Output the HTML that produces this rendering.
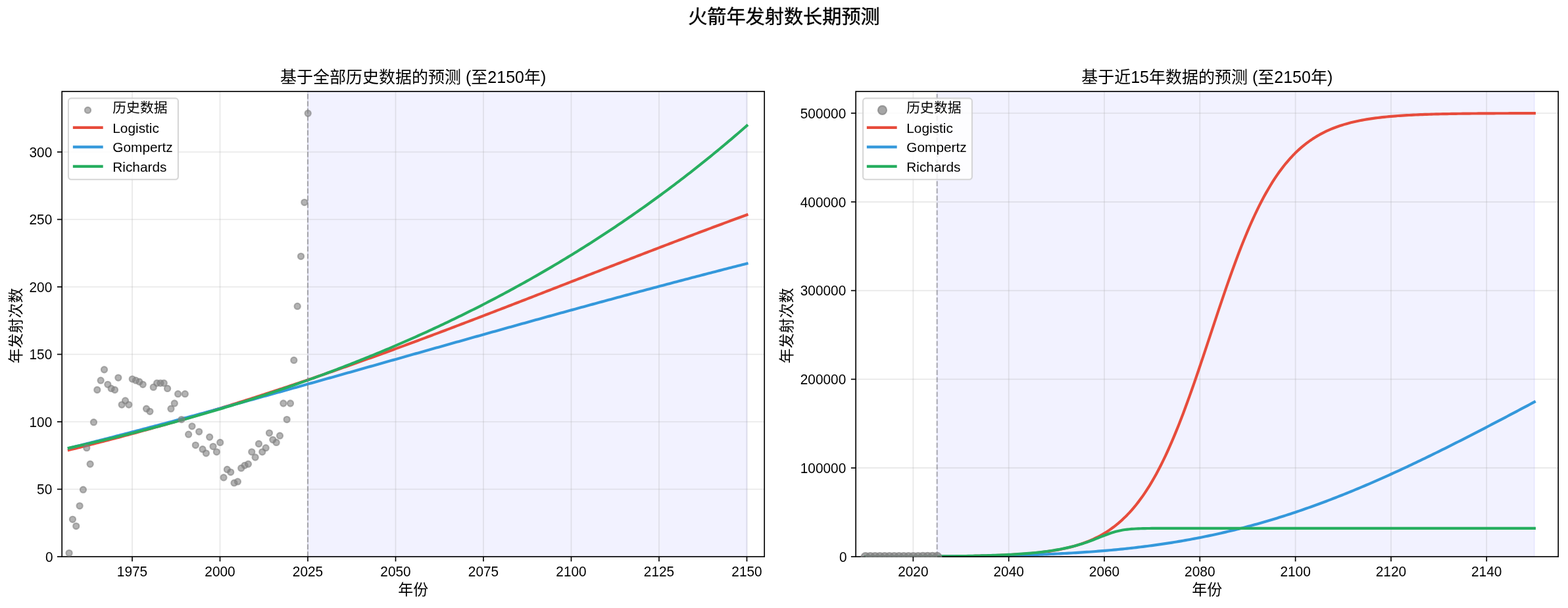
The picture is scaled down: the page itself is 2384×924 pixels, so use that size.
<!DOCTYPE html>
<html lang="zh"><head><meta charset="utf-8"><title>火箭年发射数长期预测</title>
<style>html,body{margin:0;padding:0;background:#fff}body{width:2384px;height:924px;overflow:hidden;font-family:"Liberation Sans","Noto Sans CJK SC",sans-serif}svg{display:block;will-change:transform}</style></head>
<body><svg width="2384" height="924" viewBox="0 0 2384 924" font-family="'Liberation Sans', 'Noto Sans CJK SC', sans-serif" fill="#000"><rect width="2384" height="924" fill="#fff"/><clipPath id="clip1"><rect x="94.2" y="139.0" width="1068.0" height="707.8"/></clipPath>
<g clip-path="url(#clip1)">
<rect x="468.00" y="139.0" width="667.50" height="707.0" fill="#0000ff" fill-opacity="0.05" stroke="#0000ff" stroke-opacity="0.05" stroke-width="2.08"/>
<g stroke="#b0b0b0" stroke-opacity="0.3" stroke-width="1.67"><line x1="201.00" y1="139.0" x2="201.00" y2="846.0"/><line x1="334.50" y1="139.0" x2="334.50" y2="846.0"/><line x1="468.00" y1="139.0" x2="468.00" y2="846.0"/><line x1="601.50" y1="139.0" x2="601.50" y2="846.0"/><line x1="735.00" y1="139.0" x2="735.00" y2="846.0"/><line x1="868.50" y1="139.0" x2="868.50" y2="846.0"/><line x1="1002.00" y1="139.0" x2="1002.00" y2="846.0"/><line x1="1135.50" y1="139.0" x2="1135.50" y2="846.0"/><line x1="94.2" y1="743.50" x2="1162.2" y2="743.50"/><line x1="94.2" y1="641.00" x2="1162.2" y2="641.00"/><line x1="94.2" y1="538.50" x2="1162.2" y2="538.50"/><line x1="94.2" y1="436.00" x2="1162.2" y2="436.00"/><line x1="94.2" y1="333.50" x2="1162.2" y2="333.50"/><line x1="94.2" y1="231.00" x2="1162.2" y2="231.00"/></g>
<polyline points="104.88,683.92 108.33,683.07 111.77,682.23 115.22,681.38 118.67,680.53 122.11,679.67 125.56,678.81 129.01,677.95 132.46,677.08 135.90,676.22 139.35,675.34 142.80,674.47 146.24,673.59 149.69,672.71 153.14,671.82 156.58,670.93 160.03,670.04 163.48,669.14 166.92,668.25 170.37,667.34 173.82,666.44 177.26,665.53 180.71,664.62 184.16,663.70 187.61,662.78 191.05,661.86 194.50,660.93 197.95,660.01 201.39,659.07 204.84,658.14 208.29,657.20 211.73,656.26 215.18,655.31 218.63,654.36 222.07,653.41 225.52,652.46 228.97,651.50 232.41,650.54 235.86,649.57 239.31,648.60 242.76,647.63 246.20,646.66 249.65,645.68 253.10,644.70 256.54,643.71 259.99,642.72 263.44,641.73 266.88,640.74 270.33,639.74 273.78,638.74 277.22,637.73 280.67,636.73 284.12,635.71 287.57,634.70 291.01,633.68 294.46,632.66 297.91,631.64 301.35,630.61 304.80,629.58 308.25,628.55 311.69,627.51 315.14,626.47 318.59,625.43 322.03,624.38 325.48,623.33 328.93,622.28 332.37,621.23 335.82,620.17 339.27,619.11 342.72,618.04 346.16,616.97 349.61,615.90 353.06,614.83 356.50,613.75 359.95,612.67 363.40,611.59 366.84,610.50 370.29,609.41 373.74,608.32 377.18,607.22 380.63,606.12 384.08,605.02 387.52,603.92 390.97,602.81 394.42,601.70 397.87,600.59 401.31,599.47 404.76,598.35 408.21,597.23 411.65,596.10 415.10,594.98 418.55,593.84 421.99,592.71 425.44,591.57 428.89,590.43 432.33,589.29 435.78,588.15 439.23,587.00 442.68,585.85 446.12,584.69 449.57,583.54 453.02,582.38 456.46,581.22 459.91,580.05 463.36,578.88 466.80,577.71 470.25,576.54 473.70,575.37 477.14,574.19 480.59,573.01 484.04,571.82 487.48,570.64 490.93,569.45 494.38,568.26 497.83,567.06 501.27,565.87 504.72,564.67 508.17,563.47 511.61,562.26 515.06,561.06 518.51,559.85 521.95,558.64 525.40,557.43 528.85,556.21 532.29,554.99 535.74,553.77 539.19,552.55 542.63,551.32 546.08,550.09 549.53,548.86 552.98,547.63 556.42,546.40 559.87,545.16 563.32,543.92 566.76,542.68 570.21,541.44 573.66,540.19 577.10,538.94 580.55,537.69 584.00,536.44 587.44,535.19 590.89,533.93 594.34,532.68 597.79,531.42 601.23,530.15 604.68,528.89 608.13,527.62 611.57,526.36 615.02,525.09 618.47,523.81 621.91,522.54 625.36,521.27 628.81,519.99 632.25,518.71 635.70,517.43 639.15,516.15 642.59,514.86 646.04,513.58 649.49,512.29 652.94,511.00 656.38,509.71 659.83,508.42 663.28,507.12 666.72,505.83 670.17,504.53 673.62,503.23 677.06,501.93 680.51,500.63 683.96,499.33 687.40,498.02 690.85,496.72 694.30,495.41 697.75,494.10 701.19,492.79 704.64,491.48 708.09,490.17 711.53,488.86 714.98,487.54 718.43,486.23 721.87,484.91 725.32,483.59 728.77,482.27 732.21,480.95 735.66,479.63 739.11,478.31 742.55,476.98 746.00,475.66 749.45,474.33 752.90,473.01 756.34,471.68 759.79,470.35 763.24,469.02 766.68,467.69 770.13,466.36 773.58,465.03 777.02,463.70 780.47,462.37 783.92,461.04 787.36,459.70 790.81,458.37 794.26,457.03 797.70,455.70 801.15,454.36 804.60,453.02 808.05,451.69 811.49,450.35 814.94,449.01 818.39,447.67 821.83,446.33 825.28,444.99 828.73,443.65 832.17,442.31 835.62,440.97 839.07,439.63 842.51,438.29 845.96,436.95 849.41,435.61 852.86,434.27 856.30,432.93 859.75,431.59 863.20,430.25 866.64,428.90 870.09,427.56 873.54,426.22 876.98,424.88 880.43,423.54 883.88,422.20 887.32,420.86 890.77,419.52 894.22,418.18 897.66,416.84 901.11,415.50 904.56,414.16 908.01,412.82 911.45,411.48 914.90,410.14 918.35,408.80 921.79,407.46 925.24,406.13 928.69,404.79 932.13,403.45 935.58,402.12 939.03,400.78 942.47,399.45 945.92,398.11 949.37,396.78 952.81,395.45 956.26,394.12 959.71,392.79 963.16,391.45 966.60,390.13 970.05,388.80 973.50,387.47 976.94,386.14 980.39,384.81 983.84,383.49 987.28,382.16 990.73,380.84 994.18,379.52 997.62,378.20 1001.07,376.88 1004.52,375.56 1007.97,374.24 1011.41,372.92 1014.86,371.61 1018.31,370.29 1021.75,368.98 1025.20,367.67 1028.65,366.35 1032.09,365.04 1035.54,363.74 1038.99,362.43 1042.43,361.12 1045.88,359.82 1049.33,358.52 1052.77,357.21 1056.22,355.91 1059.67,354.61 1063.12,353.32 1066.56,352.02 1070.01,350.73 1073.46,349.44 1076.90,348.14 1080.35,346.85 1083.80,345.57 1087.24,344.28 1090.69,343.00 1094.14,341.71 1097.58,340.43 1101.03,339.15 1104.48,337.88 1107.92,336.60 1111.37,335.33 1114.82,334.06 1118.27,332.79 1121.71,331.52 1125.16,330.25 1128.61,328.99 1132.05,327.73 1135.50,326.47" fill="none" stroke="#e74c3c" stroke-width="4.17" stroke-linecap="square" stroke-linejoin="round"/>
<polyline points="104.88,680.97 108.33,680.12 111.77,679.26 115.22,678.39 118.67,677.53 122.11,676.67 125.56,675.80 129.01,674.93 132.46,674.06 135.90,673.19 139.35,672.32 142.80,671.45 146.24,670.57 149.69,669.69 153.14,668.82 156.58,667.94 160.03,667.05 163.48,666.17 166.92,665.29 170.37,664.40 173.82,663.51 177.26,662.62 180.71,661.73 184.16,660.84 187.61,659.95 191.05,659.06 194.50,658.16 197.95,657.26 201.39,656.36 204.84,655.46 208.29,654.56 211.73,653.66 215.18,652.76 218.63,651.85 222.07,650.94 225.52,650.04 228.97,649.13 232.41,648.22 235.86,647.31 239.31,646.39 242.76,645.48 246.20,644.57 249.65,643.65 253.10,642.73 256.54,641.81 259.99,640.89 263.44,639.97 266.88,639.05 270.33,638.13 273.78,637.20 277.22,636.28 280.67,635.35 284.12,634.42 287.57,633.50 291.01,632.57 294.46,631.64 297.91,630.70 301.35,629.77 304.80,628.84 308.25,627.90 311.69,626.97 315.14,626.03 318.59,625.10 322.03,624.16 325.48,623.22 328.93,622.28 332.37,621.34 335.82,620.40 339.27,619.45 342.72,618.51 346.16,617.56 349.61,616.62 353.06,615.67 356.50,614.73 359.95,613.78 363.40,612.83 366.84,611.88 370.29,610.93 373.74,609.98 377.18,609.03 380.63,608.08 384.08,607.12 387.52,606.17 390.97,605.22 394.42,604.26 397.87,603.30 401.31,602.35 404.76,601.39 408.21,600.43 411.65,599.48 415.10,598.52 418.55,597.56 421.99,596.60 425.44,595.64 428.89,594.67 432.33,593.71 435.78,592.75 439.23,591.79 442.68,590.82 446.12,589.86 449.57,588.90 453.02,587.93 456.46,586.97 459.91,586.00 463.36,585.03 466.80,584.07 470.25,583.10 473.70,582.13 477.14,581.17 480.59,580.20 484.04,579.23 487.48,578.26 490.93,577.29 494.38,576.32 497.83,575.35 501.27,574.38 504.72,573.41 508.17,572.44 511.61,571.47 515.06,570.50 518.51,569.52 521.95,568.55 525.40,567.58 528.85,566.61 532.29,565.64 535.74,564.66 539.19,563.69 542.63,562.72 546.08,561.74 549.53,560.77 552.98,559.79 556.42,558.82 559.87,557.85 563.32,556.87 566.76,555.90 570.21,554.92 573.66,553.95 577.10,552.97 580.55,552.00 584.00,551.03 587.44,550.05 590.89,549.08 594.34,548.10 597.79,547.13 601.23,546.15 604.68,545.18 608.13,544.20 611.57,543.23 615.02,542.25 618.47,541.28 621.91,540.30 625.36,539.33 628.81,538.35 632.25,537.38 635.70,536.40 639.15,535.43 642.59,534.46 646.04,533.48 649.49,532.51 652.94,531.53 656.38,530.56 659.83,529.59 663.28,528.61 666.72,527.64 670.17,526.67 673.62,525.69 677.06,524.72 680.51,523.75 683.96,522.78 687.40,521.81 690.85,520.83 694.30,519.86 697.75,518.89 701.19,517.92 704.64,516.95 708.09,515.98 711.53,515.01 714.98,514.04 718.43,513.07 721.87,512.10 725.32,511.13 728.77,510.16 732.21,509.20 735.66,508.23 739.11,507.26 742.55,506.30 746.00,505.33 749.45,504.36 752.90,503.40 756.34,502.43 759.79,501.47 763.24,500.50 766.68,499.54 770.13,498.58 773.58,497.61 777.02,496.65 780.47,495.69 783.92,494.73 787.36,493.77 790.81,492.81 794.26,491.85 797.70,490.89 801.15,489.93 804.60,488.97 808.05,488.01 811.49,487.05 814.94,486.10 818.39,485.14 821.83,484.19 825.28,483.23 828.73,482.28 832.17,481.32 835.62,480.37 839.07,479.42 842.51,478.46 845.96,477.51 849.41,476.56 852.86,475.61 856.30,474.66 859.75,473.71 863.20,472.77 866.64,471.82 870.09,470.87 873.54,469.93 876.98,468.98 880.43,468.04 883.88,467.09 887.32,466.15 890.77,465.21 894.22,464.27 897.66,463.32 901.11,462.38 904.56,461.45 908.01,460.51 911.45,459.57 914.90,458.63 918.35,457.70 921.79,456.76 925.24,455.82 928.69,454.89 932.13,453.96 935.58,453.03 939.03,452.09 942.47,451.16 945.92,450.23 949.37,449.30 952.81,448.38 956.26,447.45 959.71,446.52 963.16,445.60 966.60,444.67 970.05,443.75 973.50,442.82 976.94,441.90 980.39,440.98 983.84,440.06 987.28,439.14 990.73,438.22 994.18,437.31 997.62,436.39 1001.07,435.47 1004.52,434.56 1007.97,433.65 1011.41,432.73 1014.86,431.82 1018.31,430.91 1021.75,430.00 1025.20,429.09 1028.65,428.18 1032.09,427.28 1035.54,426.37 1038.99,425.46 1042.43,424.56 1045.88,423.66 1049.33,422.76 1052.77,421.85 1056.22,420.95 1059.67,420.05 1063.12,419.16 1066.56,418.26 1070.01,417.36 1073.46,416.47 1076.90,415.58 1080.35,414.68 1083.80,413.79 1087.24,412.90 1090.69,412.01 1094.14,411.12 1097.58,410.23 1101.03,409.35 1104.48,408.46 1107.92,407.58 1111.37,406.70 1114.82,405.81 1118.27,404.93 1121.71,404.05 1125.16,403.17 1128.61,402.30 1132.05,401.42 1135.50,400.55" fill="none" stroke="#3498db" stroke-width="4.17" stroke-linecap="square" stroke-linejoin="round"/>
<polyline points="104.88,680.91 108.33,680.15 111.77,679.38 115.22,678.61 118.67,677.84 122.11,677.06 125.56,676.28 129.01,675.50 132.46,674.71 135.90,673.92 139.35,673.13 142.80,672.33 146.24,671.53 149.69,670.72 153.14,669.91 156.58,669.10 160.03,668.28 163.48,667.46 166.92,666.63 170.37,665.80 173.82,664.97 177.26,664.13 180.71,663.29 184.16,662.45 187.61,661.60 191.05,660.75 194.50,659.89 197.95,659.04 201.39,658.17 204.84,657.30 208.29,656.43 211.73,655.56 215.18,654.68 218.63,653.79 222.07,652.90 225.52,652.01 228.97,651.12 232.41,650.22 235.86,649.31 239.31,648.40 242.76,647.49 246.20,646.57 249.65,645.65 253.10,644.73 256.54,643.80 259.99,642.86 263.44,641.92 266.88,640.98 270.33,640.03 273.78,639.08 277.22,638.13 280.67,637.17 284.12,636.20 287.57,635.23 291.01,634.26 294.46,633.28 297.91,632.30 301.35,631.31 304.80,630.32 308.25,629.32 311.69,628.32 315.14,627.31 318.59,626.30 322.03,625.29 325.48,624.27 328.93,623.24 332.37,622.22 335.82,621.18 339.27,620.14 342.72,619.10 346.16,618.05 349.61,617.00 353.06,615.94 356.50,614.88 359.95,613.81 363.40,612.74 366.84,611.66 370.29,610.58 373.74,609.49 377.18,608.40 380.63,607.30 384.08,606.20 387.52,605.09 390.97,603.98 394.42,602.86 397.87,601.73 401.31,600.61 404.76,599.47 408.21,598.33 411.65,597.19 415.10,596.04 418.55,594.88 421.99,593.72 425.44,592.56 428.89,591.39 432.33,590.21 435.78,589.03 439.23,587.84 442.68,586.65 446.12,585.45 449.57,584.25 453.02,583.04 456.46,581.82 459.91,580.60 463.36,579.38 466.80,578.15 470.25,576.91 473.70,575.66 477.14,574.42 480.59,573.16 484.04,571.90 487.48,570.63 490.93,569.36 494.38,568.08 497.83,566.80 501.27,565.51 504.72,564.21 508.17,562.91 511.61,561.60 515.06,560.29 518.51,558.97 521.95,557.64 525.40,556.31 528.85,554.97 532.29,553.63 535.74,552.28 539.19,550.92 542.63,549.56 546.08,548.19 549.53,546.81 552.98,545.43 556.42,544.04 559.87,542.65 563.32,541.25 566.76,539.84 570.21,538.42 573.66,537.00 577.10,535.58 580.55,534.14 584.00,532.70 587.44,531.25 590.89,529.80 594.34,528.34 597.79,526.87 601.23,525.40 604.68,523.92 608.13,522.43 611.57,520.93 615.02,519.43 618.47,517.92 621.91,516.41 625.36,514.88 628.81,513.35 632.25,511.82 635.70,510.27 639.15,508.72 642.59,507.16 646.04,505.60 649.49,504.03 652.94,502.45 656.38,500.86 659.83,499.26 663.28,497.66 666.72,496.05 670.17,494.44 673.62,492.81 677.06,491.18 680.51,489.54 683.96,487.89 687.40,486.24 690.85,484.58 694.30,482.91 697.75,481.23 701.19,479.55 704.64,477.85 708.09,476.15 711.53,474.44 714.98,472.73 718.43,471.00 721.87,469.27 725.32,467.53 728.77,465.78 732.21,464.02 735.66,462.26 739.11,460.49 742.55,458.71 746.00,456.92 749.45,455.12 752.90,453.31 756.34,451.50 759.79,449.68 763.24,447.84 766.68,446.01 770.13,444.16 773.58,442.30 777.02,440.44 780.47,438.56 783.92,436.68 787.36,434.79 790.81,432.89 794.26,430.98 797.70,429.06 801.15,427.14 804.60,425.20 808.05,423.26 811.49,421.30 814.94,419.34 818.39,417.37 821.83,415.39 825.28,413.40 828.73,411.40 832.17,409.40 835.62,407.38 839.07,405.35 842.51,403.32 845.96,401.27 849.41,399.22 852.86,397.15 856.30,395.08 859.75,393.00 863.20,390.90 866.64,388.80 870.09,386.69 873.54,384.57 876.98,382.43 880.43,380.29 883.88,378.14 887.32,375.98 890.77,373.81 894.22,371.63 897.66,369.44 901.11,367.23 904.56,365.02 908.01,362.80 911.45,360.57 914.90,358.32 918.35,356.07 921.79,353.81 925.24,351.53 928.69,349.25 932.13,346.95 935.58,344.65 939.03,342.33 942.47,340.01 945.92,337.67 949.37,335.32 952.81,332.96 956.26,330.59 959.71,328.21 963.16,325.82 966.60,323.41 970.05,321.00 973.50,318.57 976.94,316.14 980.39,313.69 983.84,311.23 987.28,308.76 990.73,306.28 994.18,303.78 997.62,301.28 1001.07,298.76 1004.52,296.23 1007.97,293.69 1011.41,291.14 1014.86,288.58 1018.31,286.00 1021.75,283.42 1025.20,280.82 1028.65,278.21 1032.09,275.58 1035.54,272.95 1038.99,270.30 1042.43,267.64 1045.88,264.97 1049.33,262.29 1052.77,259.59 1056.22,256.88 1059.67,254.16 1063.12,251.42 1066.56,248.68 1070.01,245.92 1073.46,243.14 1076.90,240.36 1080.35,237.56 1083.80,234.75 1087.24,231.93 1090.69,229.09 1094.14,226.24 1097.58,223.38 1101.03,220.50 1104.48,217.61 1107.92,214.71 1111.37,211.79 1114.82,208.86 1118.27,205.92 1121.71,202.96 1125.16,199.99 1128.61,197.00 1132.05,194.01 1135.50,190.99" fill="none" stroke="#27ae60" stroke-width="4.17" stroke-linecap="square" stroke-linejoin="round"/>
<line x1="468.00" y1="846.0" x2="468.00" y2="139.0" stroke="#808080" stroke-opacity="0.6" stroke-width="2.08" stroke-dasharray="7.71 3.33"/>
</g>
<rect x="94.2" y="139.0" width="1068.0" height="707.0" fill="none" stroke="#000" stroke-width="1.67"/>
<g clip-path="url(#clip1)"><g fill="#808080" fill-opacity="0.6" stroke="#808080" stroke-opacity="0.6" stroke-width="2.08"><circle cx="105.08" cy="840.55" r="4.6"/><circle cx="110.42" cy="789.30" r="4.6"/><circle cx="115.76" cy="799.55" r="4.6"/><circle cx="121.10" cy="768.80" r="4.6"/><circle cx="126.44" cy="744.20" r="4.6"/><circle cx="131.78" cy="680.65" r="4.6"/><circle cx="137.12" cy="705.25" r="4.6"/><circle cx="142.46" cy="641.70" r="4.6"/><circle cx="147.80" cy="592.50" r="4.6"/><circle cx="153.14" cy="578.15" r="4.6"/><circle cx="158.48" cy="561.75" r="4.6"/><circle cx="163.82" cy="584.30" r="4.6"/><circle cx="169.16" cy="590.45" r="4.6"/><circle cx="174.50" cy="592.50" r="4.6"/><circle cx="179.84" cy="574.05" r="4.6"/><circle cx="185.18" cy="615.05" r="4.6"/><circle cx="190.52" cy="608.90" r="4.6"/><circle cx="195.86" cy="615.05" r="4.6"/><circle cx="201.20" cy="576.10" r="4.6"/><circle cx="206.54" cy="578.15" r="4.6"/><circle cx="211.88" cy="580.20" r="4.6"/><circle cx="217.22" cy="584.30" r="4.6"/><circle cx="222.56" cy="621.20" r="4.6"/><circle cx="227.90" cy="625.30" r="4.6"/><circle cx="233.24" cy="588.40" r="4.6"/><circle cx="238.58" cy="582.25" r="4.6"/><circle cx="243.92" cy="582.25" r="4.6"/><circle cx="249.26" cy="582.25" r="4.6"/><circle cx="254.60" cy="590.45" r="4.6"/><circle cx="259.94" cy="621.20" r="4.6"/><circle cx="265.28" cy="613.00" r="4.6"/><circle cx="270.62" cy="598.65" r="4.6"/><circle cx="275.96" cy="637.60" r="4.6"/><circle cx="281.30" cy="598.65" r="4.6"/><circle cx="286.64" cy="660.15" r="4.6"/><circle cx="291.98" cy="647.85" r="4.6"/><circle cx="297.32" cy="676.55" r="4.6"/><circle cx="302.66" cy="656.05" r="4.6"/><circle cx="308.00" cy="682.70" r="4.6"/><circle cx="313.34" cy="688.85" r="4.6"/><circle cx="318.68" cy="664.25" r="4.6"/><circle cx="324.02" cy="678.60" r="4.6"/><circle cx="329.36" cy="686.80" r="4.6"/><circle cx="334.70" cy="672.45" r="4.6"/><circle cx="340.04" cy="725.75" r="4.6"/><circle cx="345.38" cy="713.45" r="4.6"/><circle cx="350.72" cy="717.55" r="4.6"/><circle cx="356.06" cy="733.95" r="4.6"/><circle cx="361.40" cy="731.90" r="4.6"/><circle cx="366.74" cy="711.40" r="4.6"/><circle cx="372.08" cy="707.30" r="4.6"/><circle cx="377.42" cy="705.25" r="4.6"/><circle cx="382.76" cy="686.80" r="4.6"/><circle cx="388.10" cy="695.00" r="4.6"/><circle cx="393.44" cy="674.50" r="4.6"/><circle cx="398.78" cy="686.80" r="4.6"/><circle cx="404.12" cy="680.65" r="4.6"/><circle cx="409.46" cy="658.10" r="4.6"/><circle cx="414.80" cy="668.35" r="4.6"/><circle cx="420.14" cy="672.45" r="4.6"/><circle cx="425.48" cy="662.20" r="4.6"/><circle cx="430.82" cy="613.00" r="4.6"/><circle cx="436.16" cy="637.60" r="4.6"/><circle cx="441.50" cy="613.00" r="4.6"/><circle cx="446.84" cy="547.40" r="4.6"/><circle cx="452.18" cy="465.40" r="4.6"/><circle cx="457.52" cy="389.55" r="4.6"/><circle cx="462.86" cy="307.55" r="4.6"/><circle cx="468.20" cy="172.25" r="4.6"/></g></g>
<g stroke="#000" stroke-width="1.67"><line x1="201.00" y1="846.0" x2="201.00" y2="853.29"/><line x1="334.50" y1="846.0" x2="334.50" y2="853.29"/><line x1="468.00" y1="846.0" x2="468.00" y2="853.29"/><line x1="601.50" y1="846.0" x2="601.50" y2="853.29"/><line x1="735.00" y1="846.0" x2="735.00" y2="853.29"/><line x1="868.50" y1="846.0" x2="868.50" y2="853.29"/><line x1="1002.00" y1="846.0" x2="1002.00" y2="853.29"/><line x1="1135.50" y1="846.0" x2="1135.50" y2="853.29"/><line x1="94.2" y1="846.00" x2="86.91" y2="846.00"/><line x1="94.2" y1="743.50" x2="86.91" y2="743.50"/><line x1="94.2" y1="641.00" x2="86.91" y2="641.00"/><line x1="94.2" y1="538.50" x2="86.91" y2="538.50"/><line x1="94.2" y1="436.00" x2="86.91" y2="436.00"/><line x1="94.2" y1="333.50" x2="86.91" y2="333.50"/><line x1="94.2" y1="231.00" x2="86.91" y2="231.00"/></g>
<g font-size="20.83px" text-anchor="middle"><text x="201.00" y="876" transform="matrix(1 0 0 1.04 0 -35.040)">1975</text><text x="334.50" y="876" transform="matrix(1 0 0 1.04 0 -35.040)">2000</text><text x="468.00" y="876" transform="matrix(1 0 0 1.04 0 -35.040)">2025</text><text x="601.50" y="876" transform="matrix(1 0 0 1.04 0 -35.040)">2050</text><text x="735.00" y="876" transform="matrix(1 0 0 1.04 0 -35.040)">2075</text><text x="868.50" y="876" transform="matrix(1 0 0 1.04 0 -35.040)">2100</text><text x="1002.00" y="876" transform="matrix(1 0 0 1.04 0 -35.040)">2125</text><text x="1135.50" y="876" transform="matrix(1 0 0 1.04 0 -35.040)">2150</text></g><g font-size="20.83px" text-anchor="end"><text x="80.50" y="853.80" transform="matrix(1 0 0 1.04 0 -34.152)">0</text><text x="79.30" y="751.30" transform="matrix(1 0 0 1.04 0 -30.052)">50</text><text x="79.30" y="648.80" transform="matrix(1 0 0 1.04 0 -25.952)">100</text><text x="79.30" y="546.30" transform="matrix(1 0 0 1.04 0 -21.852)">150</text><text x="79.30" y="443.80" transform="matrix(1 0 0 1.04 0 -17.752)">200</text><text x="79.30" y="341.30" transform="matrix(1 0 0 1.04 0 -13.652)">250</text><text x="79.30" y="238.80" transform="matrix(1 0 0 1.04 0 -9.552)">300</text></g>
<text x="605.28" y="903.60" font-size="22.92px" fill="#000">年份</text>
<text x="426.09" y="126.40" font-size="25.0px" fill="#000">基于全部历史数据的预测 (至2150年)</text>
<g transform="rotate(-90 32.00 552.20)"><text x="32.00" y="552.20" font-size="22.92px" fill="#000">年发射次数</text></g>
<clipPath id="clip2"><rect x="1301.2" y="139.0" width="1067.9999999999998" height="707.8"/></clipPath>
<g clip-path="url(#clip2)">
<rect x="1424.71" y="139.0" width="908.16" height="707.0" fill="#0000ff" fill-opacity="0.05" stroke="#0000ff" stroke-opacity="0.05" stroke-width="2.08"/>
<g stroke="#b0b0b0" stroke-opacity="0.3" stroke-width="1.67"><line x1="1388.38" y1="139.0" x2="1388.38" y2="846.0"/><line x1="1533.69" y1="139.0" x2="1533.69" y2="846.0"/><line x1="1679.00" y1="139.0" x2="1679.00" y2="846.0"/><line x1="1824.30" y1="139.0" x2="1824.30" y2="846.0"/><line x1="1969.61" y1="139.0" x2="1969.61" y2="846.0"/><line x1="2114.91" y1="139.0" x2="2114.91" y2="846.0"/><line x1="2260.22" y1="139.0" x2="2260.22" y2="846.0"/><line x1="1301.2" y1="711.20" x2="2369.2" y2="711.20"/><line x1="1301.2" y1="576.40" x2="2369.2" y2="576.40"/><line x1="1301.2" y1="441.60" x2="2369.2" y2="441.60"/><line x1="1301.2" y1="306.80" x2="2369.2" y2="306.80"/><line x1="1301.2" y1="172.00" x2="2369.2" y2="172.00"/></g>
<polyline points="1315.73,845.94 1319.13,845.94 1322.53,845.94 1325.94,845.93 1329.34,845.93 1332.74,845.92 1336.14,845.92 1339.54,845.91 1342.95,845.91 1346.35,845.90 1349.75,845.90 1353.15,845.89 1356.55,845.88 1359.95,845.88 1363.36,845.87 1366.76,845.86 1370.16,845.85 1373.56,845.84 1376.96,845.83 1380.37,845.82 1383.77,845.81 1387.17,845.80 1390.57,845.79 1393.97,845.77 1397.37,845.76 1400.78,845.74 1404.18,845.73 1407.58,845.71 1410.98,845.69 1414.38,845.67 1417.79,845.65 1421.19,845.63 1424.59,845.61 1427.99,845.58 1431.39,845.56 1434.79,845.53 1438.20,845.50 1441.60,845.47 1445.00,845.43 1448.40,845.40 1451.80,845.36 1455.21,845.32 1458.61,845.28 1462.01,845.23 1465.41,845.19 1468.81,845.13 1472.21,845.08 1475.62,845.02 1479.02,844.96 1482.42,844.90 1485.82,844.83 1489.22,844.75 1492.63,844.67 1496.03,844.59 1499.43,844.50 1502.83,844.41 1506.23,844.31 1509.63,844.20 1513.04,844.09 1516.44,843.97 1519.84,843.84 1523.24,843.71 1526.64,843.56 1530.04,843.41 1533.45,843.25 1536.85,843.08 1540.25,842.89 1543.65,842.70 1547.05,842.49 1550.46,842.28 1553.86,842.04 1557.26,841.80 1560.66,841.53 1564.06,841.25 1567.46,840.96 1570.87,840.64 1574.27,840.31 1577.67,839.95 1581.07,839.58 1584.47,839.18 1587.88,838.75 1591.28,838.30 1594.68,837.83 1598.08,837.32 1601.48,836.78 1604.88,836.21 1608.29,835.60 1611.69,834.96 1615.09,834.28 1618.49,833.56 1621.89,832.79 1625.30,831.98 1628.70,831.11 1632.10,830.20 1635.50,829.23 1638.90,828.21 1642.30,827.12 1645.71,825.97 1649.11,824.75 1652.51,823.46 1655.91,822.09 1659.31,820.64 1662.72,819.11 1666.12,817.49 1669.52,815.78 1672.92,813.97 1676.32,812.06 1679.72,810.04 1683.13,807.91 1686.53,805.66 1689.93,803.28 1693.33,800.78 1696.73,798.14 1700.14,795.36 1703.54,792.43 1706.94,789.34 1710.34,786.10 1713.74,782.68 1717.14,779.10 1720.55,775.33 1723.95,771.38 1727.35,767.24 1730.75,762.90 1734.15,758.36 1737.56,753.60 1740.96,748.63 1744.36,743.45 1747.76,738.03 1751.16,732.39 1754.56,726.51 1757.97,720.40 1761.37,714.05 1764.77,707.46 1768.17,700.63 1771.57,693.56 1774.98,686.25 1778.38,678.70 1781.78,670.92 1785.18,662.90 1788.58,654.66 1791.98,646.20 1795.39,637.52 1798.79,628.64 1802.19,619.57 1805.59,610.31 1808.99,600.89 1812.40,591.30 1815.80,581.57 1819.20,571.71 1822.60,561.74 1826.00,551.68 1829.40,541.54 1832.81,531.33 1836.21,521.09 1839.61,510.82 1843.01,500.55 1846.41,490.30 1849.82,480.07 1853.22,469.91 1856.62,459.81 1860.02,449.81 1863.42,439.91 1866.82,430.13 1870.23,420.49 1873.63,411.01 1877.03,401.69 1880.43,392.55 1883.83,383.60 1887.24,374.85 1890.64,366.32 1894.04,357.99 1897.44,349.90 1900.84,342.03 1904.24,334.40 1907.65,327.00 1911.05,319.85 1914.45,312.93 1917.85,306.26 1921.25,299.82 1924.66,293.63 1928.06,287.67 1931.46,281.94 1934.86,276.45 1938.26,271.18 1941.66,266.13 1945.07,261.30 1948.47,256.69 1951.87,252.27 1955.27,248.06 1958.67,244.04 1962.08,240.21 1965.48,236.57 1968.88,233.09 1972.28,229.79 1975.68,226.65 1979.08,223.67 1982.49,220.83 1985.89,218.14 1989.29,215.59 1992.69,213.17 1996.09,210.87 1999.50,208.70 2002.90,206.64 2006.30,204.69 2009.70,202.85 2013.10,201.10 2016.50,199.45 2019.91,197.89 2023.31,196.41 2026.71,195.02 2030.11,193.70 2033.51,192.46 2036.92,191.28 2040.32,190.17 2043.72,189.12 2047.12,188.14 2050.52,187.20 2053.92,186.32 2057.33,185.49 2060.73,184.71 2064.13,183.97 2067.53,183.28 2070.93,182.62 2074.34,182.00 2077.74,181.42 2081.14,180.87 2084.54,180.35 2087.94,179.86 2091.34,179.40 2094.75,178.97 2098.15,178.56 2101.55,178.18 2104.95,177.81 2108.35,177.47 2111.76,177.15 2115.16,176.85 2118.56,176.56 2121.96,176.30 2125.36,176.04 2128.76,175.81 2132.17,175.58 2135.57,175.37 2138.97,175.17 2142.37,174.99 2145.77,174.81 2149.18,174.64 2152.58,174.49 2155.98,174.34 2159.38,174.20 2162.78,174.07 2166.18,173.95 2169.59,173.84 2172.99,173.73 2176.39,173.63 2179.79,173.53 2183.19,173.44 2186.60,173.35 2190.00,173.27 2193.40,173.20 2196.80,173.13 2200.20,173.06 2203.60,173.00 2207.01,172.94 2210.41,172.88 2213.81,172.83 2217.21,172.78 2220.61,172.74 2224.02,172.69 2227.42,172.65 2230.82,172.61 2234.22,172.58 2237.62,172.54 2241.02,172.51 2244.43,172.48 2247.83,172.45 2251.23,172.43 2254.63,172.40 2258.03,172.38 2261.44,172.35 2264.84,172.33 2268.24,172.31 2271.64,172.30 2275.04,172.28 2278.44,172.26 2281.85,172.25 2285.25,172.23 2288.65,172.22 2292.05,172.21 2295.45,172.19 2298.86,172.18 2302.26,172.17 2305.66,172.16 2309.06,172.15 2312.46,172.14 2315.86,172.13 2319.27,172.13 2322.67,172.12 2326.07,172.11 2329.47,172.10 2332.87,172.10" fill="none" stroke="#e74c3c" stroke-width="4.17" stroke-linecap="square" stroke-linejoin="round"/>
<polyline points="1315.73,845.95 1319.13,845.94 1322.53,845.94 1325.94,845.93 1329.34,845.93 1332.74,845.93 1336.14,845.92 1339.54,845.91 1342.95,845.91 1346.35,845.90 1349.75,845.90 1353.15,845.89 1356.55,845.88 1359.95,845.87 1363.36,845.87 1366.76,845.86 1370.16,845.85 1373.56,845.84 1376.96,845.83 1380.37,845.82 1383.77,845.81 1387.17,845.79 1390.57,845.78 1393.97,845.77 1397.37,845.75 1400.78,845.74 1404.18,845.72 1407.58,845.71 1410.98,845.69 1414.38,845.67 1417.79,845.65 1421.19,845.63 1424.59,845.61 1427.99,845.59 1431.39,845.57 1434.79,845.55 1438.20,845.52 1441.60,845.49 1445.00,845.47 1448.40,845.44 1451.80,845.41 1455.21,845.38 1458.61,845.34 1462.01,845.31 1465.41,845.28 1468.81,845.24 1472.21,845.20 1475.62,845.16 1479.02,845.12 1482.42,845.07 1485.82,845.03 1489.22,844.98 1492.63,844.93 1496.03,844.88 1499.43,844.82 1502.83,844.77 1506.23,844.71 1509.63,844.65 1513.04,844.58 1516.44,844.52 1519.84,844.45 1523.24,844.38 1526.64,844.31 1530.04,844.23 1533.45,844.15 1536.85,844.07 1540.25,843.99 1543.65,843.90 1547.05,843.81 1550.46,843.71 1553.86,843.62 1557.26,843.52 1560.66,843.41 1564.06,843.30 1567.46,843.19 1570.87,843.08 1574.27,842.96 1577.67,842.84 1581.07,842.71 1584.47,842.58 1587.88,842.44 1591.28,842.30 1594.68,842.16 1598.08,842.01 1601.48,841.86 1604.88,841.70 1608.29,841.54 1611.69,841.37 1615.09,841.20 1618.49,841.02 1621.89,840.84 1625.30,840.65 1628.70,840.46 1632.10,840.26 1635.50,840.06 1638.90,839.85 1642.30,839.63 1645.71,839.41 1649.11,839.19 1652.51,838.95 1655.91,838.71 1659.31,838.47 1662.72,838.22 1666.12,837.96 1669.52,837.69 1672.92,837.42 1676.32,837.14 1679.72,836.86 1683.13,836.56 1686.53,836.26 1689.93,835.96 1693.33,835.64 1696.73,835.32 1700.14,834.99 1703.54,834.66 1706.94,834.31 1710.34,833.96 1713.74,833.60 1717.14,833.23 1720.55,832.85 1723.95,832.47 1727.35,832.08 1730.75,831.68 1734.15,831.27 1737.56,830.85 1740.96,830.42 1744.36,829.98 1747.76,829.54 1751.16,829.09 1754.56,828.62 1757.97,828.15 1761.37,827.67 1764.77,827.18 1768.17,826.68 1771.57,826.17 1774.98,825.66 1778.38,825.13 1781.78,824.59 1785.18,824.04 1788.58,823.48 1791.98,822.92 1795.39,822.34 1798.79,821.75 1802.19,821.16 1805.59,820.55 1808.99,819.93 1812.40,819.30 1815.80,818.67 1819.20,818.02 1822.60,817.36 1826.00,816.69 1829.40,816.01 1832.81,815.32 1836.21,814.62 1839.61,813.90 1843.01,813.18 1846.41,812.45 1849.82,811.70 1853.22,810.95 1856.62,810.18 1860.02,809.40 1863.42,808.61 1866.82,807.82 1870.23,807.01 1873.63,806.18 1877.03,805.35 1880.43,804.51 1883.83,803.65 1887.24,802.79 1890.64,801.91 1894.04,801.02 1897.44,800.12 1900.84,799.21 1904.24,798.29 1907.65,797.36 1911.05,796.41 1914.45,795.46 1917.85,794.49 1921.25,793.52 1924.66,792.53 1928.06,791.53 1931.46,790.52 1934.86,789.49 1938.26,788.46 1941.66,787.42 1945.07,786.36 1948.47,785.30 1951.87,784.22 1955.27,783.13 1958.67,782.03 1962.08,780.92 1965.48,779.80 1968.88,778.67 1972.28,777.52 1975.68,776.37 1979.08,775.21 1982.49,774.03 1985.89,772.84 1989.29,771.65 1992.69,770.44 1996.09,769.22 1999.50,768.00 2002.90,766.76 2006.30,765.51 2009.70,764.25 2013.10,762.98 2016.50,761.70 2019.91,760.41 2023.31,759.11 2026.71,757.80 2030.11,756.48 2033.51,755.15 2036.92,753.81 2040.32,752.47 2043.72,751.11 2047.12,749.74 2050.52,748.36 2053.92,746.98 2057.33,745.58 2060.73,744.17 2064.13,742.76 2067.53,741.34 2070.93,739.90 2074.34,738.46 2077.74,737.01 2081.14,735.55 2084.54,734.09 2087.94,732.61 2091.34,731.13 2094.75,729.64 2098.15,728.13 2101.55,726.63 2104.95,725.11 2108.35,723.58 2111.76,722.05 2115.16,720.51 2118.56,718.96 2121.96,717.41 2125.36,715.85 2128.76,714.28 2132.17,712.70 2135.57,711.11 2138.97,709.52 2142.37,707.92 2145.77,706.32 2149.18,704.71 2152.58,703.09 2155.98,701.46 2159.38,699.83 2162.78,698.20 2166.18,696.55 2169.59,694.90 2172.99,693.25 2176.39,691.59 2179.79,689.92 2183.19,688.25 2186.60,686.57 2190.00,684.89 2193.40,683.20 2196.80,681.51 2200.20,679.81 2203.60,678.10 2207.01,676.40 2210.41,674.68 2213.81,672.97 2217.21,671.24 2220.61,669.52 2224.02,667.79 2227.42,666.05 2230.82,664.32 2234.22,662.58 2237.62,660.83 2241.02,659.08 2244.43,657.33 2247.83,655.57 2251.23,653.81 2254.63,652.05 2258.03,650.28 2261.44,648.52 2264.84,646.74 2268.24,644.97 2271.64,643.19 2275.04,641.41 2278.44,639.63 2281.85,637.85 2285.25,636.06 2288.65,634.28 2292.05,632.49 2295.45,630.69 2298.86,628.90 2302.26,627.11 2305.66,625.31 2309.06,623.51 2312.46,621.71 2315.86,619.91 2319.27,618.11 2322.67,616.31 2326.07,614.51 2329.47,612.70 2332.87,610.90" fill="none" stroke="#3498db" stroke-width="4.17" stroke-linecap="square" stroke-linejoin="round"/>
<polyline points="1315.73,845.92 1319.13,845.91 1322.53,845.91 1325.94,845.90 1329.34,845.90 1332.74,845.89 1336.14,845.89 1339.54,845.88 1342.95,845.87 1346.35,845.87 1349.75,845.86 1353.15,845.85 1356.55,845.84 1359.95,845.83 1363.36,845.82 1366.76,845.81 1370.16,845.80 1373.56,845.79 1376.96,845.78 1380.37,845.76 1383.77,845.75 1387.17,845.73 1390.57,845.72 1393.97,845.70 1397.37,845.68 1400.78,845.67 1404.18,845.65 1407.58,845.63 1410.98,845.60 1414.38,845.58 1417.79,845.56 1421.19,845.53 1424.59,845.50 1427.99,845.47 1431.39,845.44 1434.79,845.41 1438.20,845.38 1441.60,845.34 1445.00,845.30 1448.40,845.26 1451.80,845.22 1455.21,845.17 1458.61,845.12 1462.01,845.07 1465.41,845.02 1468.81,844.96 1472.21,844.90 1475.62,844.83 1479.02,844.77 1482.42,844.69 1485.82,844.62 1489.22,844.54 1492.63,844.45 1496.03,844.36 1499.43,844.27 1502.83,844.16 1506.23,844.06 1509.63,843.94 1513.04,843.82 1516.44,843.70 1519.84,843.56 1523.24,843.42 1526.64,843.27 1530.04,843.11 1533.45,842.94 1536.85,842.76 1540.25,842.57 1543.65,842.37 1547.05,842.16 1550.46,841.94 1553.86,841.70 1557.26,841.45 1560.66,841.18 1564.06,840.90 1567.46,840.60 1570.87,840.29 1574.27,839.95 1577.67,839.60 1581.07,839.23 1584.47,838.83 1587.88,838.41 1591.28,837.97 1594.68,837.50 1598.08,837.01 1601.48,836.48 1604.88,835.93 1608.29,835.34 1611.69,834.72 1615.09,834.06 1618.49,833.37 1621.89,832.64 1625.30,831.86 1628.70,831.04 1632.10,830.18 1635.50,829.27 1638.90,828.31 1642.30,827.30 1645.71,826.24 1649.11,825.13 1652.51,823.96 1655.91,822.75 1659.31,821.50 1662.72,820.20 1666.12,818.87 1669.52,817.52 1672.92,816.16 1676.32,814.80 1679.72,813.47 1683.13,812.18 1686.53,810.94 1689.93,809.79 1693.33,808.73 1696.73,807.77 1700.14,806.93 1703.54,806.19 1706.94,805.56 1710.34,805.03 1713.74,804.60 1717.14,804.24 1720.55,803.94 1723.95,803.71 1727.35,803.52 1730.75,803.37 1734.15,803.25 1737.56,803.16 1740.96,803.09 1744.36,803.03 1747.76,802.98 1751.16,802.95 1754.56,802.92 1757.97,802.90 1761.37,802.88 1764.77,802.87 1768.17,802.86 1771.57,802.85 1774.98,802.84 1778.38,802.84 1781.78,802.84 1785.18,802.83 1788.58,802.83 1791.98,802.83 1795.39,802.83 1798.79,802.83 1802.19,802.83 1805.59,802.82 1808.99,802.82 1812.40,802.82 1815.80,802.82 1819.20,802.82 1822.60,802.82 1826.00,802.82 1829.40,802.82 1832.81,802.82 1836.21,802.82 1839.61,802.82 1843.01,802.82 1846.41,802.82 1849.82,802.82 1853.22,802.82 1856.62,802.82 1860.02,802.82 1863.42,802.82 1866.82,802.82 1870.23,802.82 1873.63,802.82 1877.03,802.82 1880.43,802.82 1883.83,802.82 1887.24,802.82 1890.64,802.82 1894.04,802.82 1897.44,802.82 1900.84,802.82 1904.24,802.82 1907.65,802.82 1911.05,802.82 1914.45,802.82 1917.85,802.82 1921.25,802.82 1924.66,802.82 1928.06,802.82 1931.46,802.82 1934.86,802.82 1938.26,802.82 1941.66,802.82 1945.07,802.82 1948.47,802.82 1951.87,802.82 1955.27,802.82 1958.67,802.82 1962.08,802.82 1965.48,802.82 1968.88,802.82 1972.28,802.82 1975.68,802.82 1979.08,802.82 1982.49,802.82 1985.89,802.82 1989.29,802.82 1992.69,802.82 1996.09,802.82 1999.50,802.82 2002.90,802.82 2006.30,802.82 2009.70,802.82 2013.10,802.82 2016.50,802.82 2019.91,802.82 2023.31,802.82 2026.71,802.82 2030.11,802.82 2033.51,802.82 2036.92,802.82 2040.32,802.82 2043.72,802.82 2047.12,802.82 2050.52,802.82 2053.92,802.82 2057.33,802.82 2060.73,802.82 2064.13,802.82 2067.53,802.82 2070.93,802.82 2074.34,802.82 2077.74,802.82 2081.14,802.82 2084.54,802.82 2087.94,802.82 2091.34,802.82 2094.75,802.82 2098.15,802.82 2101.55,802.82 2104.95,802.82 2108.35,802.82 2111.76,802.82 2115.16,802.82 2118.56,802.82 2121.96,802.82 2125.36,802.82 2128.76,802.82 2132.17,802.82 2135.57,802.82 2138.97,802.82 2142.37,802.82 2145.77,802.82 2149.18,802.82 2152.58,802.82 2155.98,802.82 2159.38,802.82 2162.78,802.82 2166.18,802.82 2169.59,802.82 2172.99,802.82 2176.39,802.82 2179.79,802.82 2183.19,802.82 2186.60,802.82 2190.00,802.82 2193.40,802.82 2196.80,802.82 2200.20,802.82 2203.60,802.82 2207.01,802.82 2210.41,802.82 2213.81,802.82 2217.21,802.82 2220.61,802.82 2224.02,802.82 2227.42,802.82 2230.82,802.82 2234.22,802.82 2237.62,802.82 2241.02,802.82 2244.43,802.82 2247.83,802.82 2251.23,802.82 2254.63,802.82 2258.03,802.82 2261.44,802.82 2264.84,802.82 2268.24,802.82 2271.64,802.82 2275.04,802.82 2278.44,802.82 2281.85,802.82 2285.25,802.82 2288.65,802.82 2292.05,802.82 2295.45,802.82 2298.86,802.82 2302.26,802.82 2305.66,802.82 2309.06,802.82 2312.46,802.82 2315.86,802.82 2319.27,802.82 2322.67,802.82 2326.07,802.82 2329.47,802.82 2332.87,802.82" fill="none" stroke="#27ae60" stroke-width="4.17" stroke-linecap="square" stroke-linejoin="round"/>
<line x1="1424.71" y1="846.0" x2="1424.71" y2="139.0" stroke="#808080" stroke-opacity="0.6" stroke-width="2.08" stroke-dasharray="7.71 3.33"/>
</g>
<rect x="1301.2" y="139.0" width="1067.9999999999998" height="707.0" fill="none" stroke="#000" stroke-width="1.67"/>
<g clip-path="url(#clip2)"><g fill="#808080" fill-opacity="0.7" stroke="#808080" stroke-opacity="0.7" stroke-width="2.08"><circle cx="1315.93" cy="846.60" r="6.54"/><circle cx="1323.20" cy="846.59" r="6.54"/><circle cx="1330.46" cy="846.59" r="6.54"/><circle cx="1337.73" cy="846.59" r="6.54"/><circle cx="1344.99" cy="846.58" r="6.54"/><circle cx="1352.26" cy="846.58" r="6.54"/><circle cx="1359.52" cy="846.59" r="6.54"/><circle cx="1366.79" cy="846.58" r="6.54"/><circle cx="1374.05" cy="846.55" r="6.54"/><circle cx="1381.32" cy="846.56" r="6.54"/><circle cx="1388.58" cy="846.55" r="6.54"/><circle cx="1395.85" cy="846.50" r="6.54"/><circle cx="1403.11" cy="846.45" r="6.54"/><circle cx="1410.38" cy="846.40" r="6.54"/><circle cx="1417.64" cy="846.35" r="6.54"/><circle cx="1424.91" cy="846.26" r="6.54"/></g></g>
<g stroke="#000" stroke-width="1.67"><line x1="1388.38" y1="846.0" x2="1388.38" y2="853.29"/><line x1="1533.69" y1="846.0" x2="1533.69" y2="853.29"/><line x1="1679.00" y1="846.0" x2="1679.00" y2="853.29"/><line x1="1824.30" y1="846.0" x2="1824.30" y2="853.29"/><line x1="1969.61" y1="846.0" x2="1969.61" y2="853.29"/><line x1="2114.91" y1="846.0" x2="2114.91" y2="853.29"/><line x1="2260.22" y1="846.0" x2="2260.22" y2="853.29"/><line x1="1301.2" y1="846.00" x2="1293.91" y2="846.00"/><line x1="1301.2" y1="711.20" x2="1293.91" y2="711.20"/><line x1="1301.2" y1="576.40" x2="1293.91" y2="576.40"/><line x1="1301.2" y1="441.60" x2="1293.91" y2="441.60"/><line x1="1301.2" y1="306.80" x2="1293.91" y2="306.80"/><line x1="1301.2" y1="172.00" x2="1293.91" y2="172.00"/></g>
<g font-size="20.83px" text-anchor="middle"><text x="1388.38" y="876" transform="matrix(1 0 0 1.04 0 -35.040)">2020</text><text x="1533.69" y="876" transform="matrix(1 0 0 1.04 0 -35.040)">2040</text><text x="1679.00" y="876" transform="matrix(1 0 0 1.04 0 -35.040)">2060</text><text x="1824.30" y="876" transform="matrix(1 0 0 1.04 0 -35.040)">2080</text><text x="1969.61" y="876" transform="matrix(1 0 0 1.04 0 -35.040)">2100</text><text x="2114.91" y="876" transform="matrix(1 0 0 1.04 0 -35.040)">2120</text><text x="2260.22" y="876" transform="matrix(1 0 0 1.04 0 -35.040)">2140</text></g><g font-size="20.83px" text-anchor="end"><text x="1287.50" y="853.80" transform="matrix(1 0 0 1.04 0 -34.152)">0</text><text x="1286.30" y="719.00" transform="matrix(1 0 0 1.04 0 -28.760)">100000</text><text x="1286.30" y="584.20" transform="matrix(1 0 0 1.04 0 -23.368)">200000</text><text x="1286.30" y="449.40" transform="matrix(1 0 0 1.04 0 -17.976)">300000</text><text x="1286.30" y="314.60" transform="matrix(1 0 0 1.04 0 -12.584)">400000</text><text x="1286.30" y="179.80" transform="matrix(1 0 0 1.04 0 -7.192)">500000</text></g>
<text x="1812.28" y="903.60" font-size="22.92px" fill="#000">年份</text>
<text x="1644.19" y="126.40" font-size="25.0px" fill="#000">基于近15年数据的预测 (至2150年)</text>
<g transform="rotate(-90 1204.00 552.20)"><text x="1204.00" y="552.20" font-size="22.92px" fill="#000">年发射次数</text></g>
<rect x="104.0" y="149.4" width="166.90" height="123.3" rx="4.17" fill="#fff" fill-opacity="0.8" stroke="#ccc" stroke-opacity="0.8" stroke-width="2.08"/>
<circle cx="133.50" cy="167.45" r="4.6" fill="#808080" fill-opacity="0.6" stroke="#808080" stroke-opacity="0.6" stroke-width="2.08"/>
<text x="171.27" y="171.30" font-size="20.83px" fill="#000">历史数据</text>
<line x1="112.93" y1="193.80" x2="154.60" y2="193.80" stroke="#e74c3c" stroke-width="4.17" stroke-linecap="square"/>
<text x="171.27" y="201.70" font-size="20.83px">Logistic</text>
<line x1="112.93" y1="223.35" x2="154.60" y2="223.35" stroke="#3498db" stroke-width="4.17" stroke-linecap="square"/>
<text x="171.27" y="231.25" font-size="20.83px">Gompertz</text>
<line x1="112.93" y1="252.90" x2="154.60" y2="252.90" stroke="#27ae60" stroke-width="4.17" stroke-linecap="square"/>
<text x="171.27" y="260.80" font-size="20.83px">Richards</text>
<rect x="1312.1" y="149.4" width="165.80" height="123.3" rx="4.17" fill="#fff" fill-opacity="0.8" stroke="#ccc" stroke-opacity="0.8" stroke-width="2.08"/>
<circle cx="1341.50" cy="167.45" r="6.54" fill="#808080" fill-opacity="0.7" stroke="#808080" stroke-opacity="0.7" stroke-width="2.08"/>
<text x="1378.27" y="171.30" font-size="20.83px" fill="#000">历史数据</text>
<line x1="1319.93" y1="193.80" x2="1361.60" y2="193.80" stroke="#e74c3c" stroke-width="4.17" stroke-linecap="square"/>
<text x="1378.27" y="201.70" font-size="20.83px">Logistic</text>
<line x1="1319.93" y1="223.35" x2="1361.60" y2="223.35" stroke="#3498db" stroke-width="4.17" stroke-linecap="square"/>
<text x="1378.27" y="231.25" font-size="20.83px">Gompertz</text>
<line x1="1319.93" y1="252.90" x2="1361.60" y2="252.90" stroke="#27ae60" stroke-width="4.17" stroke-linecap="square"/>
<text x="1378.27" y="260.80" font-size="20.83px">Richards</text>
<text x="1046.15" y="35.60" font-size="29.17px" fill="#000" stroke="#000" stroke-width="0.39">火箭年发射数长期预测</text></svg></body></html>
